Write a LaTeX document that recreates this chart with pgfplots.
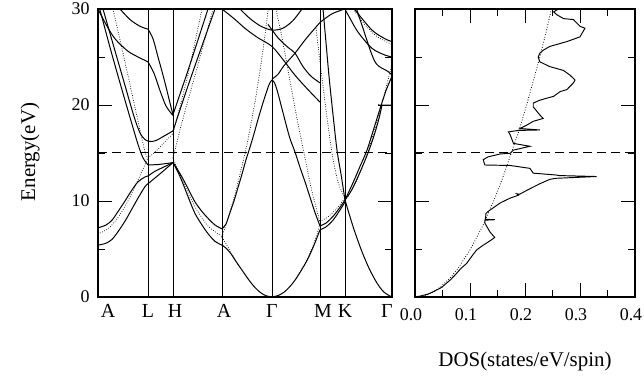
\documentclass[border=0pt]{standalone}
\usepackage{pgfplots}
\pgfplotsset{compat=1.18}
\usepackage{fontspec}
\setmainfont{Liberation Serif}
\pgfplotsset{
 sl/.style={black, line width=1.0bp, smooth, no markers},
 dl/.style={black, line width=1.0bp, line cap=round, dash pattern=on 0pt off 2.4bp, smooth, no markers},
 vl/.style={black, line width=0.55bp, no markers},
 fl/.style={black, line width=1.0bp, dash pattern=on 9bp off 5bp, no markers},
}
\begin{document}
\begin{tikzpicture}
\useasboundingbox (0bp,0bp) rectangle (644bp,376bp);
\begin{axis}[
  at={(98bp,79bp)}, anchor=south west,
  width=294bp, height=288bp, scale only axis,
  xmin=0, xmax=294, ymin=0, ymax=30,
  axis line style={line width=1.3bp},
  xtick={10,50,77,126,174,225,247,289},
  xticklabels={A,L,H,A,Γ,M,K,Γ},
  xtick style={draw=none},
  xticklabel style={font=\fontsize{20}{20}\selectfont, yshift=-4bp},
  ytick={0,10,20,30}, yticklabels={0,10,20,30},
  minor ytick={5,15,25},
  ytick pos=both, yticklabel pos=left,
  yticklabel style={font=\fontsize{18}{18}\selectfont, xshift=-5bp},
  tick align=inside,
  major tick length=14bp, minor tick length=7bp,
  ytick style={line width=0.9bp, black},
  clip=true,
]
% symmetry lines
\addplot[vl] coordinates {(50,0)(50,30)};
\addplot[vl] coordinates {(75,0)(75,30)};
\addplot[vl] coordinates {(124,0)(124,30)};
\addplot[vl] coordinates {(174,0)(174,30)};
\addplot[vl] coordinates {(222,0)(222,30)};
\addplot[vl] coordinates {(247,0)(247,30)};
% Fermi level
\addplot[fl] coordinates {(0,15)(294,15)};
% A-L-H lower bands
\addplot[sl] coordinates {(0,5.4)(8,5.6)(14,6.0)(20,6.8)(27,7.9)(33,9.0)(40,10.3)(47,11.5)(50,11.8)};
\addplot[sl] coordinates {(50,11.8)(57,12.4)(65,13.1)(75,14.0)};
\addplot[sl] coordinates {(0,7.2)(8,7.5)(14,8.0)(20,8.9)(27,10.0)(33,11.0)(40,12.0)(47,12.5)(50,12.6)};
\addplot[sl] coordinates {(50,12.6)(57,13.1)(65,13.5)(75,14.0)};
\addplot[sl] coordinates {(2,29.9)(12,26.0)(22,22.3)(32,18.7)(40,15.9)(45,14.5)(50,13.75)};
\addplot[sl] coordinates {(50,13.75)(60,13.8)(68,13.9)(75,14.0)};
\addplot[sl] coordinates {(5,30)(16,26.0)(26,22.4)(36,18.8)(42,17.1)(47,16.4)(52,16.2)(58,16.3)(65,16.7)(75,17.3)};
\addplot[sl] coordinates {(22,30)(32,28.9)(42,28.2)(50,27.9)};
\addplot[sl] coordinates {(50,27.9)(55,26.9)(60,25.0)(64,23.5)(68,21.9)(72,20.2)(75,19.0)};
\addplot[sl] coordinates {(0,30)(8,28.4)(17,26.9)(30,25.6)(42,24.9)(50,24.5)};
\addplot[sl] coordinates {(50,24.5)(56,23.3)(62,21.5)(68,19.9)(75,18.9)};
\addplot[dl] coordinates {(0,6.6)(10,7.1)(20,8.3)(30,10.0)(40,12.2)(50,14.5)};
\addplot[dl] coordinates {(15,30)(25,25.4)(35,20.7)(42,17.4)(47,15.1)(50,14.5)};
\addplot[dl] coordinates {(50,14.5)(56,15.0)(62,15.6)(68,16.3)(75,17.0)};
% H-A
\addplot[sl] coordinates {(75,19.0)(90,23.6)(110,30)};
\addplot[sl] coordinates {(75,17.3)(92,22.6)(117,30)};
\addplot[dl] coordinates {(75,17.0)(90,23.2)(104,30)};
\addplot[dl] coordinates {(75,14.5)(85,18.6)(100,24.2)(115,30)};
\addplot[sl] coordinates {(75,14.0)(80,13.2)(85,12.3)(91,11.1)(97,9.9)(104,8.9)(110,8.2)(117,7.5)(124,7.1)};
\addplot[sl] coordinates {(75,14.0)(80,13.0)(85,11.8)(91,10.2)(97,8.7)(104,7.5)(110,6.6)(117,5.8)(124,5.4)};
\addplot[dl] coordinates {(75,14.5)(85,12.0)(97,9.4)(110,7.4)(124,6.3)};
% A-Gamma-M
\addplot[sl] coordinates {(124,5.4)(128,5.1)(133,4.5)(138,3.7)(144,2.8)(150,1.9)(156,1.1)(162,0.5)(168,0.13)(174,0)};
\addplot[dl] coordinates {(124,6.2)(130,5.2)(136,4.1)(142,3.1)};
\addplot[sl] coordinates {(124,7.1)(128,7.6)(132,8.8)(136,10.0)(140,11.4)(144,12.8)(148,14.3)(152,15.6)(156,17.0)(160,18.5)(164,19.9)(168,21.2)(171,22.1)(174,22.6)(177,22.2)(180,21.2)(184,19.6)(188,18.0)(192,16.5)(197,15.1)(202,13.5)(207,12.0)(212,10.4)(217,8.8)(222,7.4)};
\addplot[dl] coordinates {(124,6.3)(130,8.2)(136,10.3)(142,12.8)(148,15.4)(154,18.6)(160,22.2)(166,26.5)(170,29.8)(171,30.5)};
\addplot[dl] coordinates {(177,30.5)(179,29.5)(185,26.5)(192,22.5)(199,18.6)(206,15.0)(214,11.0)(222,7.8)};
\addplot[sl] coordinates {(142,30)(152,29.0)(163,28.2)(174,27.8)(185,28.0)(195,28.8)(204,30)};
\addplot[sl] coordinates {(124,30)(136,29.0)(148,27.9)(160,27.0)(174,26.1)(186,24.6)(197,23.1)(210,21.6)(222,20.3)};
\addplot[sl] coordinates {(174,22.7)(180,23.2)(186,24.1)(197,25.4)(208,26.9)(222,28.6)};
\addplot[sl] coordinates {(222,28.6)(234,29.5)(247,30)};
\addplot[sl] coordinates {(170,28.4)(180,27.0)(190,26.0)(197,25.4)(205,24.0)(213,23.0)(222,22.3)};
\addplot[sl] coordinates {(174,0)(180,0.15)(186,0.5)(192,1.1)(198,1.9)(204,2.9)(210,4.0)(216,5.4)(222,7.0)};
\addplot[dl] coordinates {(200,2.3)(206,3.3)(212,4.6)(217,5.9)(222,7.6)};
% M-K
\addplot[sl] coordinates {(222,7.4)(228,7.7)(235,8.4)(241,9.2)(247,10.1)};
\addplot[sl] coordinates {(222,7.0)(228,7.3)(235,8.0)(241,8.9)(247,9.9)};
\addplot[dl] coordinates {(222,7.9)(228,8.2)(235,8.8)(241,9.5)(247,10.3)};
\addplot[sl] coordinates {(225,30)(228,26.5)(231,23.0)(235,19.0)(239,15.3)(243,12.8)(247,10.1)};
\addplot[dl] coordinates {(218,28.0)(222,24.5)(228,19.5)(234,15.0)(240,12.0)(247,10.3)};
% K-Gamma
\addplot[sl] coordinates {(247,10.1)(255,7.35)(263,4.98)(271,3.0)(279,1.45)(286,0.5)(294,0)};
\addplot[sl] coordinates {(247,10.1)(255,11.9)(262,13.6)(269,15.3)(276,17.6)(282,19.6)(288,21.5)(294,23.0)};
\addplot[sl] coordinates {(247,10.1)(254,11.2)(262,13.0)(270,15.0)(276,16.8)(281,18.6)(284,20.0)};
\addplot[sl] coordinates {(280,20.0)(294,20.0)};
\addplot[dl] coordinates {(250,10.5)(258,12.0)(266,14.0)(274,16.5)(282,19.4)(290,22.6)(294,24.3)};
\addplot[sl] coordinates {(247,30)(250,29.4)(260,27.6)(274,25.9)(287,25.2)(294,25.0)};
\addplot[sl] coordinates {(252,30.5)(257,29.9)(274,27.8)(287,26.9)(294,26.6)};
\addplot[sl] coordinates {(258,30.2)(264,28.3)(277,24.5)(290,23.5)(294,23.1)};
\addplot[dl] coordinates {(255,30)(265,28.6)(278,27.2)(294,26.3)};
\end{axis}
\begin{axis}[
  at={(415bp,79bp)}, anchor=south west,
  width=220bp, height=288bp, scale only axis,
  xmin=0, xmax=0.4, ymin=0, ymax=30,
  axis line style={line width=1.3bp},
  xtick={0,0.1,0.2,0.3,0.4}, xticklabels={0.0,0.1,0.2,0.3,0.4},
  minor xtick={0.05,0.15,0.25,0.35},
  xtick pos=both, xticklabel pos=bottom,
  ytick={10,20}, yticklabels={}, minor ytick={5,15,25},
  ytick pos=both,
  tick align=inside,
  major tick length=14bp, minor tick length=7bp,
  tick style={line width=0.9bp, black},
  xticklabel style={font=\fontsize{18}{18}\selectfont, yshift=-8bp, xshift=-4bp},
]
\addplot[fl] coordinates {(0,15)(0.4,15)};
\addplot[black, line width=1.1bp, line cap=round, dash pattern=on 0pt off 2.6bp, no markers] coordinates {(0,0)(0.014,0.1)(0.0227,0.25)(0.032,0.5)(0.0453,1)(0.064,2)(0.0785,3)(0.101,5)(0.124,7.5)(0.143,10)(0.160,12.5)(0.175,15)(0.190,17.5)(0.203,20)(0.215,22.5)(0.227,25)(0.238,27.5)(0.248,30)};
\addplot[black, line width=0.95bp, no markers] coordinates {
(0,0)(0.010,0.1)(0.024,0.31)(0.035,0.6)(0.0485,1.0)(0.064,1.77)(0.073,2.3)(0.084,3.0)(0.094,3.5)(0.104,4.3)(0.112,4.9)(0.124,5.4)(0.135,5.8)(0.145,6.2)(0.136,6.8)(0.127,7.7)(0.127,8.0)(0.145,8.05)(0.128,8.1)(0.129,8.7)(0.134,8.96)(0.155,9.8)(0.173,10.3)(0.188,10.6)(0.185,10.75)(0.190,10.7)(0.203,11.1)(0.227,11.8)(0.245,12.25)(0.255,12.36)(0.330,12.55)(0.262,12.65)(0.258,12.7)(0.215,12.9)(0.209,13.4)(0.173,13.7)(0.127,13.75)(0.124,14.3)(0.133,14.6)(0.155,14.9)(0.173,14.97)(0.179,15.3)(0.209,15.7)(0.179,16.0)(0.173,16.9)(0.170,17.2)(0.188,17.35)(0.227,17.4)(0.191,17.55)(0.203,17.9)(0.215,18.3)(0.233,18.6)(0.227,18.96)(0.215,19.8)(0.215,20.2)(0.227,20.5)(0.239,20.7)(0.252,20.9)(0.264,21.4)(0.276,21.6)(0.288,22.3)(0.291,22.6)(0.282,23.1)(0.270,23.6)(0.245,24.0)(0.227,24.5)(0.224,25.0)(0.227,25.4)(0.233,25.7)(0.245,26.1)(0.276,26.6)(0.300,27.1)(0.309,28.0)(0.300,28.2)(0.288,28.9)(0.270,29.0)(0.258,29.4)(0.252,29.7)(0.258,29.9)(0.262,30)};
\end{axis}
\node[rotate=90, font=\fontsize{21}{21}\selectfont] at (30bp,224bp) {Energy(eV)};
\node[font=\fontsize{21}{21}\selectfont] at (525bp,15bp) {DOS(states/eV/spin)};
\end{tikzpicture}
\end{document}
